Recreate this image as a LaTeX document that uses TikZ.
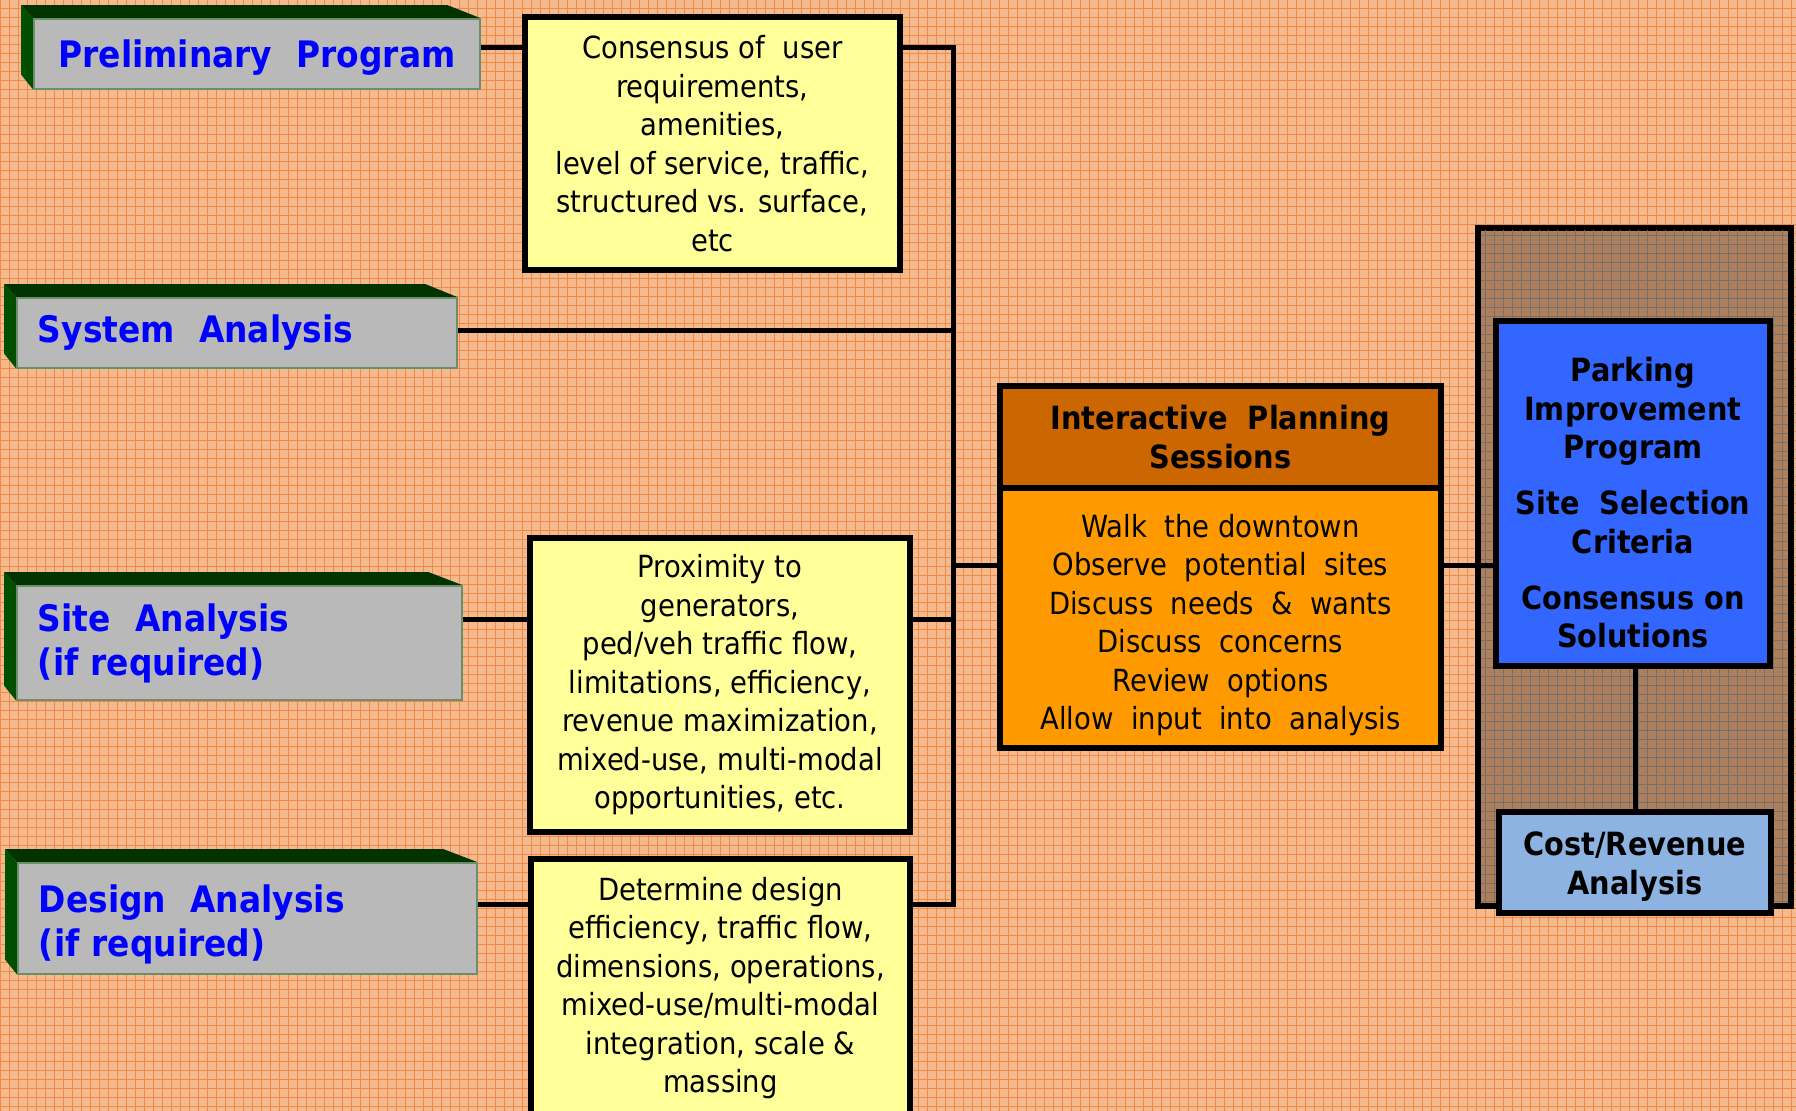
\documentclass[tikz,border=0pt]{standalone}
\usepackage{fontspec}
\setmainfont{DejaVu Sans}[FakeStretch=0.9]
\usetikzlibrary{calc}
\definecolor{bgbase}{HTML}{F4B98D}
\definecolor{bgline}{HTML}{EE8A45}
\definecolor{brbase}{HTML}{AD7F5C}
\definecolor{brline}{HTML}{75706A}
\definecolor{paleyellow}{HTML}{FFFF99}
\definecolor{hdrorange}{HTML}{CC6600}
\definecolor{bodyorange}{HTML}{FF9900}
\definecolor{boxblue}{HTML}{3366FF}
\definecolor{costblue}{HTML}{8DB3E2}
\definecolor{grayfront}{HTML}{B9B9B9}
\definecolor{frontedge}{HTML}{6A8F6A}
\definecolor{labelblue}{HTML}{0000FF}
\definecolor{topgreen}{HTML}{003300}
\definecolor{sidegreen}{HTML}{004F00}
\newcommand\regtext{\fontsize{12.2}{15.4}\selectfont}
\newcommand\graylabel{\fontsize{14.6}{17.6}\selectfont\bfseries}
\newcommand\boldblack{\fontsize{12.8}{15.4}\selectfont\bfseries}
\pgfdeclarelayer{bg}
\pgfdeclarelayer{conn}
\pgfsetlayers{bg,conn,main}
\newcommand\threed[2]{%
  \fill[topgreen] (#1.north west) -- ++(-12,-13) -- ($(#1.north east)+(-#2,-13)$) -- (#1.north east) -- cycle;
  \fill[sidegreen] (#1.north west) -- ++(-12,-13) -- ($(#1.south west)+(-12,-15)$) -- (#1.south west) -- cycle;}
\begin{document}
\begin{tikzpicture}[x=0.4pt,y=-0.4pt,
  frontbox/.style={draw=frontedge, line width=0.6pt, fill=grayfront, font=\graylabel, text=labelblue, inner xsep=8.4pt, inner ysep=0pt},
  yellowbox/.style={draw=black, line width=2.4pt, fill=paleyellow, align=center, font=\regtext, inner sep=0pt},
  blackbox/.style={draw=black, line width=2.4pt, align=center, inner sep=0pt},
  conn/.style={line width=2pt, draw=black},
  bggrid/.style={line width=0.4pt, draw=bgline},
  brgrid/.style={line width=0.35pt, draw=brline}]
\useasboundingbox (0,0) rectangle (1796,1111);
\begin{pgfonlayer}{bg}
  \fill[bgbase] (0,0) rectangle (1796,1111);
  \foreach \gx in {0,9,...,1796} \draw[bggrid] (\gx,0) -- (\gx,1111);
  \foreach \gy in {0,9,...,1111} \draw[bggrid] (0,\gy) -- (1796,\gy);
  \node[blackbox, fill=brbase, line width=2.4pt, minimum width=125.2pt, minimum height=271.2pt] (cont) at (1634.5,567) {};
  \begin{scope}
    \clip (1481,231) rectangle (1788,903);
    \foreach \gx in {1476,1485,...,1794} \draw[brgrid] (\gx,225) -- (\gx,910);
    \foreach \gy in {226,235,...,910} \draw[brgrid] (1475,\gy) -- (1795,\gy);
  \end{scope}
\end{pgfonlayer}

% left 3D labels
\node[frontbox, minimum width=178.4pt, minimum height=28pt, text width=161.6pt, align=center] (prelim) at (257,54) {{}\\[-3.8pt]Preliminary\ \ Program};
\node[frontbox, minimum width=176pt, minimum height=28pt, text width=159.2pt, align=left] (system) at (237,333) {System\ \ Analysis};
\node[frontbox, minimum width=178pt, minimum height=45.6pt, text width=161.2pt, align=left] (site) at (239.5,643) {Site\ \ Analysis\\(if required)};
\node[frontbox, minimum width=183.6pt, minimum height=44.4pt, text width=166.8pt, align=left] (design) at (247.5,918.5) {{}\\[-2pt]Design\ \ Analysis\\(if required)};

% yellow boxes
\node[yellowbox, minimum width=150pt, minimum height=101.2pt] (y1) at (712.5,143.5)
  {Consensus of\ \ user\\requirements,\\amenities,\\level of service, traffic,\\structured vs. surface,\\etc};
\node[yellowbox, minimum width=152pt, minimum height=117.6pt] (y2) at (720,685)
  {Proximity to\\generators,\\ped/veh traffic flow,\\limitations, efficiency,\\revenue maximization,\\mixed-use, multi-modal\\opportunities, etc.};
\node[yellowbox, minimum width=151.6pt, minimum height=103.2pt] (y3) at (720.5,988)
  {Determine design\\efficiency, traffic flow,\\dimensions, operations,\\mixed-use/multi-modal\\integration, scale \&\\massing};

% interactive planning sessions
\node[blackbox, fill=hdrorange, font=\boldblack, minimum width=176.4pt, minimum height=40.8pt] (hdr) at (1220.5,437)
  {Interactive\ \ Planning\\Sessions};
\node[blackbox, fill=bodyorange, font=\regtext, minimum width=176.4pt, minimum height=104pt] (body) at (1220.5,618)
  {{}\\[-0.4pt]Walk\ \ the downtown\\Observe\ \ potential\ \ sites\\Discuss\ \ needs\ \ \&\ \ wants\\Discuss\ \ concerns\\Review\ \ options\\Allow\ \ input\ \ into\ \ analysis};

% right column
\node[blackbox, fill=boxblue, font=\boldblack, minimum width=109.6pt, minimum height=138pt] (blue) at (1633,493.5)
  {{}\\[1.6pt]Parking\\Improvement\\Program\\[7pt]Site\ \ Selection\\Criteria\\[7pt]Consensus on\\Solutions};
\node[blackbox, fill=costblue, font=\boldblack, minimum width=108.8pt, minimum height=40.4pt] (cost) at (1635,862.5)
  {{}\\[-2.8pt]Cost/Revenue\\Analysis};

\coordinate (bustop) at (953,48);
\coordinate (busbot) at (953,905);

\begin{pgfonlayer}{conn}
  \threed{prelim}{33}
  \threed{system}{32}
  \threed{site}{34}
  \threed{design}{34}
  \draw[conn] (prelim.east |- bustop) -- (y1.west |- bustop);
  \draw[conn] (y1.east |- bustop) -- (bustop) -- (busbot) -- (y3.east |- busbot);
  \draw[conn] (system.east |- 0,331) -- (bustop |- 0,331);
  \draw[conn] (site.east |- 0,620) -- (y2.west |- 0,620);
  \draw[conn] (y2.east |- 0,620) -- (bustop |- 0,620);
  \draw[conn] (design.east |- busbot) -- (y3.west |- busbot);
  \draw[conn] (bustop |- 0,566) -- (body.west |- 0,566);
  \draw[conn] (body.east |- 0,566) -- (blue.west |- 0,566);
  \draw[conn] (cost.north |- blue.south) -- (cost.north);
\end{pgfonlayer}
\end{tikzpicture}
\end{document}
